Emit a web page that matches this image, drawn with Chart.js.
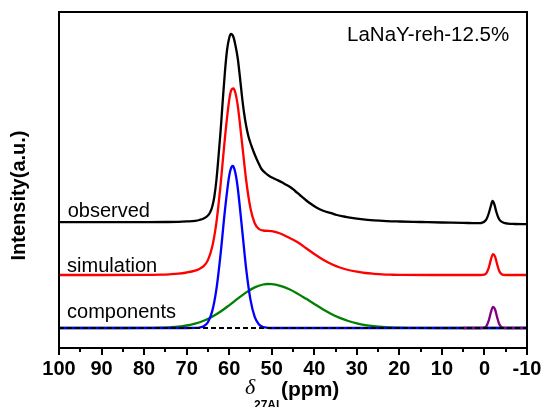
<!DOCTYPE html>
<html><head><meta charset="utf-8">
<script src="https://cdn.jsdelivr.net/npm/chart.js@4/dist/chart.umd.min.js"></script>
<style>html,body{margin:0;padding:0;background:#fff}#wrap{width:546px;height:407px}</style>
</head><body><div id="wrap"><canvas id="c" width="546" height="407"></canvas></div>
<script>
// ---- data (chemical shift in ppm, intensity in arbitrary units incl. vertical offsets) ----
const obsPpm = [100,95,90,85,80,75,72,70,68,67,66,65,64.5,64,63.5,63,62.5,62,61.5,61,60.5,60,59.6,59,58.5,58,57.5,57,56.5,56,55.5,55,54.5,54,53.5,53,52.4,51.5,50.5,49.6,48.5,47.5,46.5,45.5,44.5,43.4,42,41,39.5,37.9,36,34.7,33,31.6,29,26,23,20,15,10,5,2,1,0.5,0,-0.5,-1,-1.5,-1.9,-2.3,-2.8,-3.3,-3.8,-4.5,-5.5,-7,-10];
const obsInt = [125.8,125.8,125.8,125.9,125.9,126.0,126.2,126.6,127.2,128.0,129.5,132.5,135.5,141,151,168,192,218,248,276,298,310,314,311,302,290,272,252,235,222,212,205,199,193.5,188.5,184,179,175,171.8,169.8,167.6,165.5,163,160.5,157,153,148,144.7,140.5,137.3,134.8,133,131.5,130.3,128.8,127.6,126.9,126.5,126,125.5,125.2,124.8,124.9,125.4,126.5,129,134.5,142,147,144,136,130,127,125.2,124.4,124,123.8];

const simPpm = [100,90,80,76,74,72,70,68,67,66,65,64,63,62,61,60,59.5,59,58.5,58,57,56,55,54,53,52,51,50,48,46,44,42,40,38,36,34,32,30,28,26,24,22,20,10,2,1,0,-0.5,-1,-1.5,-2,-2.5,-3,-3.5,-4,-4.5,-5,-10];
const simInt = [73,73,73.1,73.3,73.7,74.3,75.5,77.4,79.1,81.9,87.9,100.9,125.7,164.2,210.1,247.8,258,259.5,254.5,242.8,206,167.5,139.7,124.8,119,117.5,117.2,116.8,114.5,110.5,106,100,94,88.5,84,80.5,78,76.3,75,74.2,73.6,73.3,73.1,73,73,73,73.4,75.2,80.2,88.2,93.8,91.3,83.4,76.7,73.9,73.1,73,73];

const bluePpm = [100,80,70,68,67,66,65,64,63,62,61,60,59.5,59.2,59,58.5,58,57,56,55,54,53,52,51,50,40,20,0,-10];
const blueInt = [20,20,20,20.1,20.4,21.7,25.8,36.6,58.9,94.7,137.6,172.1,180.6,182,181.4,174.3,160.5,120.4,78.9,48.4,31.2,23.6,21.0,20.2,20,20,20,20,20];

const greenPpm = [100,90,85,80,76,74,72,70,68,66,64,62,60,58,56,54,52,51,50,48,46,44,42,40,38,36,34,32,30,28,26,24,22,20,16,10,0,-10];
const greenInt = [20,20,20,20.1,20.3,20.7,21.3,22.5,24.4,27.2,31.3,36.5,42.7,49.3,55.6,60.6,63.5,64.0,63.9,62.2,59.0,54.6,49.4,44.0,38.8,34.1,30.1,27.0,24.6,22.9,21.8,21.0,20.6,20.3,20.1,20,20,20];

const purplePpm = [5,2,1,0,-0.5,-1,-1.5,-2,-2.5,-3,-3.5,-4,-4.5,-5,-10];
const purpleInt = [20,20,20,20.4,22.2,27.3,35.5,41.1,38.5,30.4,23.7,20.9,20.1,20,20];

const basePpm = [100,-10];
const baseInt = [20,20];

const xTickLabels = [100,90,80,70,60,50,40,30,20,10,0,-10];
const xMinorTicks = [95,85,75,65,55,45,35,25,15,5,-5];
const curveLabels = ['observed','simulation','components'];
const sampleName = 'LaNaY-reh-12.5%';
const yTitle = 'Intensity(a.u.)';

const pts = (xs, ys) => xs.map((v, i) => ({x: v, y: ys[i]}));
const SANS = '"Liberation Sans", Arial, Helvetica, sans-serif';

function line(data, color, extra) {
  return Object.assign({data, borderColor: color, borderWidth: 2.3, pointRadius: 0,
    fill: false, cubicInterpolationMode: 'monotone', showLine: true}, extra || {});
}

const deco = {
  id: 'deco',
  afterDatasetsDraw(chart) {
    const {ctx, chartArea: a, scales: {x, y}} = chart;
    ctx.save();
    ctx.strokeStyle = '#000';
    ctx.lineWidth = 2;
    ctx.strokeRect(a.left, a.top, a.right - a.left, a.bottom - a.top);
    xTickLabels.forEach(v => {
      const px = Math.round(x.getPixelForValue(v));
      ctx.beginPath(); ctx.moveTo(px, a.bottom); ctx.lineTo(px, a.bottom + 7); ctx.stroke();
    });
    xMinorTicks.forEach(v => {
      const px = Math.round(x.getPixelForValue(v));
      ctx.beginPath(); ctx.moveTo(px, a.bottom); ctx.lineTo(px, a.bottom + 4); ctx.stroke();
    });
    ctx.fillStyle = '#000';
    ctx.textAlign = 'left';
    ctx.textBaseline = 'alphabetic';
    ctx.font = '20px ' + SANS;
    ctx.fillText(curveLabels[0], x.getPixelForValue(97.95), y.getPixelForValue(131.3));
    ctx.fillText(curveLabels[1], x.getPixelForValue(98.1), y.getPixelForValue(76.3));
    ctx.fillText(curveLabels[2], x.getPixelForValue(98.1), y.getPixelForValue(29.7));
    ctx.font = '20.5px ' + SANS;
    ctx.fillText(sampleName, x.getPixelForValue(32.3), y.getPixelForValue(307));
    // x title
    ctx.font = 'italic 22px "Liberation Serif", "Times New Roman", serif';
    ctx.fillText('\u03B4', 245, 394);
    ctx.font = 'bold 12px ' + SANS;
    ctx.fillText('27Al', 254, 409);
    ctx.font = 'bold 21px ' + SANS;
    ctx.fillText('(ppm)', 281, 396);
    // y title
    ctx.save();
    ctx.translate(25, 195.5);
    ctx.rotate(-Math.PI / 2);
    ctx.textAlign = 'center';
    ctx.font = 'bold 20px ' + SANS;
    ctx.fillText(yTitle, 0, 0);
    ctx.restore();
    ctx.restore();
  }
};

new Chart(document.getElementById('c'), {
  type: 'line',
  data: {
    datasets: [
      line(pts(basePpm, baseInt), '#000000', {borderDash: [5, 3], borderWidth: 2, cubicInterpolationMode: 'default', tension: 0}),
      line(pts(purplePpm, purpleInt), '#800080'),
      line(pts(bluePpm, blueInt), '#0000ff'),
      line(pts(greenPpm, greenInt), '#008000'),
      line(pts(simPpm, simInt), '#ff0000'),
      line(pts(obsPpm, obsInt), '#000000')
    ]
  },
  options: {
    responsive: false,
    animation: false,
    devicePixelRatio: 1,
    layout: {padding: {left: 59, right: 19, top: 12, bottom: 0}},
    plugins: {legend: {display: false}, tooltip: {enabled: false}},
    scales: {
      x: {
        type: 'linear', reverse: true, min: -10, max: 100,
        grid: {display: false, drawTicks: false},
        border: {display: false},
        afterBuildTicks: s => { s.ticks = xTickLabels.map(v => ({value: v})); },
        afterFit: s => { s.height = 59; s.paddingLeft = 0; s.paddingRight = 0; },
        ticks: {
          autoSkip: false, maxRotation: 0, padding: 9, color: '#000',
          font: {family: SANS, size: 20, weight: 'bold'},
          callback: v => String(v)
        }
      },
      y: {type: 'linear', min: 0, max: 336, display: false}
    }
  },
  plugins: [deco]
});
</script></body></html>
